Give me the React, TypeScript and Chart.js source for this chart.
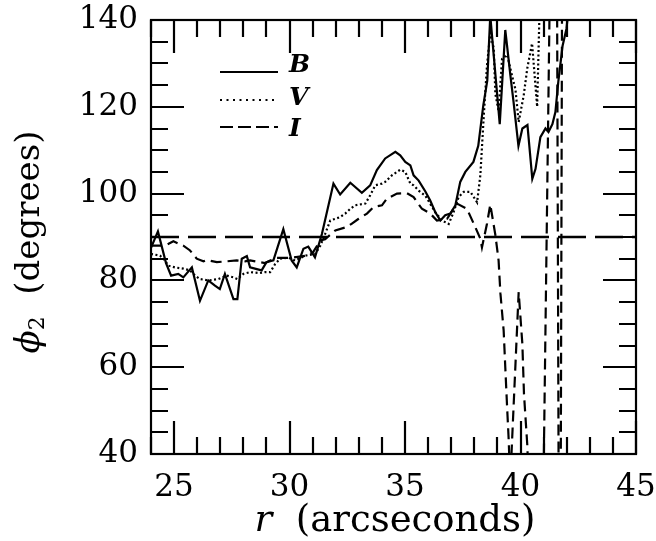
import React, { useEffect, useRef } from "react";
import { Chart, registerables } from "chart.js";

Chart.register(...registerables);

// ---- data (r in arcseconds, phi2 in degrees) ----
const bandB_r = [24.0, 24.3, 24.65, 24.87, 25.18, 25.4, 25.77, 26.12, 26.48, 26.77, 26.98, 27.2, 27.57, 27.74, 27.93, 28.15, 28.29, 28.79, 29.0, 29.3, 29.73, 30.09, 30.31, 30.6, 30.81, 31.1, 31.4, 31.9, 32.19, 32.63, 33.13, 33.49, 33.78, 34.14, 34.58, 34.79, 35.01, 35.23, 35.37, 35.59, 35.88, 36.09, 36.31, 36.53, 36.74, 36.96, 37.18, 37.39, 37.61, 37.96, 38.17, 38.39, 38.56, 38.69, 39.1, 39.34, 39.56, 39.7, 39.91, 40.08, 40.3, 40.51, 40.65, 40.86, 41.08, 41.21, 41.38, 41.51, 41.64, 41.82, 41.99, 42.07];
const bandB_phi = [87.5, 91.3, 84.0, 81.1, 81.5, 80.7, 83.0, 75.3, 80.0, 78.8, 78.0, 81.5, 75.7, 75.7, 85.0, 85.6, 83.0, 82.3, 84.2, 84.6, 91.8, 84.6, 83.0, 87.3, 87.8, 85.3, 90.7, 102.3, 99.8, 102.5, 100.2, 101.9, 105.4, 108.1, 109.6, 108.8, 107.3, 106.5, 104.2, 103.0, 100.5, 98.4, 95.7, 93.8, 95.0, 95.4, 97.3, 102.7, 105.0, 107.3, 111.0, 120.4, 126.0, 141.0, 116.0, 137.7, 127.3, 121.0, 111.0, 115.0, 115.8, 103.4, 105.7, 113.0, 115.0, 114.2, 116.0, 118.8, 126.0, 134.0, 138.0, 142.0];

const bandV_r = [24.0, 24.39, 24.61, 24.75, 25.04, 25.4, 25.69, 25.91, 26.12, 26.48, 26.92, 27.28, 27.57, 27.74, 28.0, 28.29, 28.72, 28.94, 29.16, 29.38, 29.59, 29.95, 30.24, 30.68, 31.11, 31.33, 31.54, 31.76, 31.98, 32.19, 32.41, 32.63, 32.84, 33.28, 33.49, 33.71, 34.0, 34.14, 34.43, 34.79, 35.01, 35.23, 35.37, 35.59, 35.88, 36.31, 36.6, 36.89, 37.1, 37.32, 37.54, 37.83, 38.12, 38.26, 38.41, 38.55, 38.69, 38.84, 38.91, 39.05, 39.2, 39.42, 39.64, 39.78, 39.92, 40.14, 40.29, 40.5, 40.72, 40.86, 41.0];
const bandV_phi = [86.1, 85.7, 84.6, 83.4, 83.0, 82.7, 82.3, 81.1, 80.3, 80.0, 80.3, 81.1, 80.7, 80.3, 81.5, 81.9, 81.7, 81.9, 81.9, 83.8, 85.0, 85.2, 84.6, 85.7, 86.1, 88.0, 90.7, 93.8, 94.2, 94.6, 95.4, 96.5, 97.3, 97.7, 99.6, 101.9, 102.3, 102.7, 104.2, 105.5, 105.0, 102.3, 101.9, 100.7, 99.5, 95.7, 93.8, 93.0, 95.7, 99.2, 100.4, 100.4, 98.0, 104.2, 118.0, 129.6, 137.0, 133.5, 123.0, 119.0, 131.0, 132.0, 127.0, 124.0, 116.5, 122.7, 128.8, 134.6, 120.0, 150.0, 160.0];

const bandI_r = [24.0, 24.61, 24.97, 25.4, 25.69, 25.98, 26.27, 26.41, 26.85, 27.28, 27.71, 28.07, 28.29, 28.72, 28.94, 29.16, 29.45, 29.73, 30.03, 30.75, 31.02, 31.33, 31.54, 31.98, 32.48, 32.7, 32.99, 33.35, 33.64, 34.0, 34.21, 34.65, 35.08, 35.37, 35.73, 36.09, 36.38, 36.82, 37.25, 37.68, 38.04, 38.26, 38.33, 38.55, 38.69, 38.91, 39.05, 39.13, 39.27, 39.34, 39.42, 39.49, 39.55, 39.92, 40.08, 40.15, 40.3, 40.35, 40.97, 41.3, 41.55, 41.7, 41.85];
const bandI_phi = [88.0, 88.0, 89.0, 88.0, 86.9, 85.0, 84.4, 84.7, 84.2, 84.4, 84.6, 84.4, 84.6, 84.2, 84.0, 84.6, 85.2, 85.2, 85.2, 85.7, 86.5, 89.2, 89.5, 91.5, 92.3, 93.1, 94.2, 95.4, 96.9, 97.3, 98.8, 100.0, 100.1, 99.2, 96.5, 95.4, 93.8, 94.2, 97.7, 96.5, 92.3, 89.6, 87.6, 93.1, 97.5, 90.5, 84.6, 77.0, 68.4, 60.0, 50.7, 43.0, 33.0, 77.3, 65.3, 53.8, 41.5, 30.0, 23.0, 160.0, 200.0, -50.0, 250.0];

const referencePhi = 90;
const xTickLabels = [25, 30, 35, 40, 45];
const yTickLabels = [40, 60, 80, 100, 120, 140];
const legendNames = ["B", "V", "I"];

const X_MIN = 24, X_MAX = 45, Y_MIN = 40, Y_MAX = 140;
const SERIF = "'DejaVu Serif', serif";

const toPts = (xs: number[], ys: number[]) => xs.map((x, i) => ({ x, y: ys[i] }));

const framePlugin = {
  id: "frameTicks",
  afterDatasetsDraw(chart: any) {
    const { ctx, chartArea: a, scales } = chart;
    const xs = scales.x, ys = scales.y;
    ctx.save();
    ctx.strokeStyle = "#000";
    ctx.lineWidth = 2.2;
    ctx.strokeRect(a.left, a.top, a.right - a.left, a.bottom - a.top);
    const major = 33, minor = 17;
    ctx.beginPath();
    for (let v = X_MIN; v <= X_MAX; v += 1) {
      const px = Math.round(xs.getPixelForValue(v));
      const len = v % 5 === 0 ? major : minor;
      ctx.moveTo(px, a.bottom); ctx.lineTo(px, a.bottom - len);
      ctx.moveTo(px, a.top); ctx.lineTo(px, a.top + len);
    }
    for (let v = Y_MIN; v <= Y_MAX; v += 5) {
      const py = Math.round(ys.getPixelForValue(v));
      const len = v % 20 === 0 ? major : minor;
      ctx.moveTo(a.left, py); ctx.lineTo(a.left + len, py);
      ctx.moveTo(a.right, py); ctx.lineTo(a.right - len, py);
    }
    ctx.stroke();

    // legend
    const rows = [
      { y: 72, ty: 72, dash: [] as number[] },
      { y: 100, ty: 105, dash: [2, 4.5] },
      { y: 127, ty: 136, dash: [13, 5] },
    ];
    rows.forEach((r, i) => {
      ctx.beginPath();
      ctx.setLineDash(r.dash);
      ctx.lineWidth = 2;
      ctx.moveTo(220, r.y); ctx.lineTo(278, r.y);
      ctx.stroke();
      ctx.setLineDash([]);
      ctx.fillStyle = "#000";
      ctx.font = `italic bold 25px ${SERIF}`;
      ctx.textBaseline = "alphabetic";
      ctx.textAlign = "left";
      ctx.fillText(legendNames[i], 289, r.ty);
    });
    ctx.restore();
  },
  afterDraw(chart: any) {
    const { ctx } = chart;
    ctx.save();
    ctx.fillStyle = "#000";
    ctx.textBaseline = "middle";
    ctx.textAlign = "left";
    // x title
    const fItalX = `italic 37px ${SERIF}`;
    const fNormX = `37px ${SERIF}`;
    ctx.font = fItalX; const w1 = ctx.measureText("r").width;
    ctx.font = fNormX; const w2 = ctx.measureText("  (arcseconds)").width;
    const x0 = 395 - (w1 + w2) / 2;
    ctx.font = fItalX; ctx.fillText("r", x0, 521);
    ctx.font = fNormX; ctx.fillText("  (arcseconds)", x0 + w1, 521);
    // y title
    const fItalY = `italic 34px ${SERIF}`;
    const fNormY = `34px ${SERIF}`;
    ctx.translate(30, 242);
    ctx.rotate(-Math.PI / 2);
    const fSub = `22px ${SERIF}`;
    ctx.font = fItalY; const p1 = ctx.measureText("\u03D5").width;
    ctx.font = fSub; const p2 = ctx.measureText("2").width;
    ctx.font = fNormY; const p3 = ctx.measureText("  (degrees)").width;
    const s = -(p1 + p2 + p3) / 2;
    ctx.font = fItalY; ctx.fillText("\u03D5", s, 0);
    ctx.font = fSub; ctx.fillText("2", s + p1, 8);
    ctx.font = fNormY; ctx.fillText("  (degrees)", s + p1 + p2, 0);
    ctx.restore();
  },
};

export default function App() {
  const ref = useRef<HTMLCanvasElement | null>(null);
  useEffect(() => {
    if (!ref.current) return;
    const chart = new Chart(ref.current, {
      type: "line",
      data: {
        datasets: [
          { data: toPts(bandB_r, bandB_phi), borderColor: "#000", borderWidth: 2.2, pointRadius: 0, tension: 0, clip: 0 } as any,
          { data: toPts(bandV_r, bandV_phi), borderColor: "#000", borderWidth: 2.2, borderDash: [2, 2.5], pointRadius: 0, tension: 0, clip: 0 } as any,
          { data: toPts(bandI_r, bandI_phi), borderColor: "#000", borderWidth: 2.2, borderDash: [11, 6], pointRadius: 0, tension: 0, clip: 0 } as any,
          { data: [{ x: X_MIN, y: referencePhi }, { x: X_MAX, y: referencePhi }], borderColor: "#000", borderWidth: 2.5, borderDash: [28, 9], pointRadius: 0, clip: 0 } as any,
        ],
      },
      options: {
        animation: false,
        responsive: false,
        maintainAspectRatio: false,
        layout: { padding: { left: 0, right: 20, top: 20, bottom: 0 } },
        plugins: { legend: { display: false }, tooltip: { enabled: false } },
        scales: {
          x: {
            type: "linear", min: X_MIN, max: X_MAX,
            grid: { display: false, drawTicks: false }, border: { display: false },
            afterBuildTicks: (s: any) => { s.ticks = xTickLabels.map((v) => ({ value: v })); },
            afterFit: (s: any) => { s.height = 87; s.paddingLeft = 0; s.paddingRight = 0; },
            ticks: { color: "#000", font: { family: SERIF, size: 31 }, padding: 15, maxRotation: 0, autoSkip: false },
          },
          y: {
            type: "linear", min: Y_MIN, max: Y_MAX,
            grid: { display: false, drawTicks: false }, border: { display: false },
            afterBuildTicks: (s: any) => { s.ticks = yTickLabels.map((v) => ({ value: v })); },
            afterFit: (s: any) => { s.width = 151; s.paddingTop = 0; s.paddingBottom = 0; },
            ticks: { color: "#000", font: { family: SERIF, size: 31 }, padding: 13, autoSkip: false },
          },
        },
      } as any,
      plugins: [framePlugin],
    });
    return () => chart.destroy();
  }, []);
  return (
    <div style={{ position: "absolute", left: 0, top: 0, width: 656, height: 541, background: "#fff" }}>
      <canvas ref={ref} width={656} height={541} />
    </div>
  );
}
